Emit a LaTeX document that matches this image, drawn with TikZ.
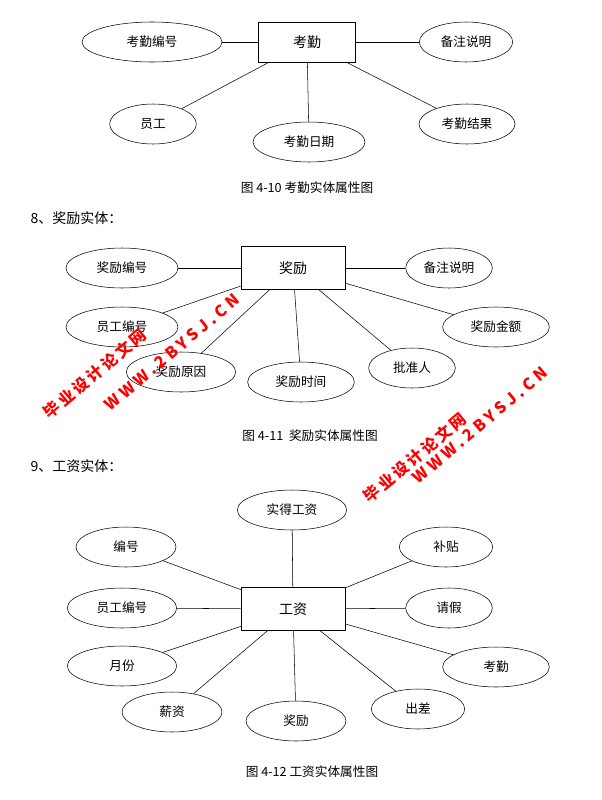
\documentclass[tikz,border=0pt]{standalone}
\usepackage{fontspec}
\setmainfont{Noto Sans CJK SC}
\usetikzlibrary{shapes.geometric}
\begin{document}
\begin{tikzpicture}[x=0.75pt,y=-0.75pt]
      % Define styles for nodes
      \tikzstyle{entity} = [draw, rectangle, minimum width=78pt,
      minimum height=32pt, font=\fontsize{10.5}{12}\selectfont]
      \tikzstyle{attr} = [draw, ellipse, minimum height=30pt,
      inner sep=0pt, font=\fontsize{9.5}{11}\selectfont]
      \tikzstyle{caption} = [font=\fontsize{9.5}{11}\selectfont]
      \tikzstyle{heading} = [anchor=west, font=\fontsize{10.5}{12}\selectfont]
      \tikzstyle{wmark} = [text=red, rotate=40, font=\bfseries\fontsize{12}{12}\selectfont]

      \useasboundingbox (0,0) rectangle (602,800);

      % Attendance entity
      \node[entity, minimum width=73pt, minimum height=30pt] (kq) at (307,42) {考勤};
      \node[attr, minimum width=105pt] (kqbh) at (152,42) {考勤编号};
      \node[attr, minimum width=70pt] (kqbz) at (466,42) {备注说明};
      \node[attr, minimum width=65pt] (kqyg) at (153,124) {员工};
      \node[attr, minimum width=84pt] (kqrq) at (309,142) {考勤日期};
      \node[attr, minimum width=72pt] (kqjg) at (467,124) {考勤结果};
      \foreach \a in {kqbh,kqbz,kqyg,kqrq,kqjg}
        \draw (kq) -- (\a);
      \node[caption] (cap1) at (307,188) {图 4-10 考勤实体属性图};
      \node[heading] (h8) at (26,218) {8、奖励实体：};

      % Reward entity
      \node[entity] (jl) at (293,268) {奖励};
      \node[attr, minimum width=84pt] (jlbh) at (122,268) {奖励编号};
      \node[attr, minimum width=65pt] (jlbz) at (449,268) {备注说明};
      \node[attr, minimum width=84pt] (jlyg) at (122,327) {员工编号};
      \node[attr, minimum width=80pt] (jlje) at (496,327) {奖励金额};
      \node[attr, minimum width=82pt] (jlyy) at (181,372) {奖励原因};
      \node[attr, minimum width=80pt] (jlsj) at (301,382) {奖励时间};
      \node[attr, minimum width=65pt] (jlpz) at (412,368) {批准人};
      \foreach \a in {jlbh,jlbz,jlyg,jlje,jlyy,jlsj,jlpz}
        \draw (jl) -- (\a);
      \node[caption] (cap2) at (310,436) {图 4-11 \ 奖励实体属性图};
      \node[heading] (h9) at (26,466) {9、工资实体：};

      % Salary entity
      \node[entity] (gz) at (293,609) {工资};
      \node[attr, minimum width=82pt] (gzsd) at (292,510) {实得工资};
      \node[attr, minimum width=75pt] (gzbh) at (126,547) {编号};
      \node[attr, minimum width=70pt] (gzbt) at (446,547) {补贴};
      \node[attr, minimum width=82pt] (gzyg) at (122,608) {员工编号};
      \node[attr, minimum width=65pt] (gzqj) at (449,608) {请假};
      \node[attr, minimum width=82pt] (gzyf) at (122,666) {月份};
      \node[attr, minimum width=80pt] (gzkq) at (496,667) {考勤};
      \node[attr, minimum width=75pt] (gzxz) at (172,712) {薪资};
      \node[attr, minimum width=75pt] (gzjl) at (296,721) {奖励};
      \node[attr, minimum width=70pt] (gzcc) at (418,709) {出差};
      \foreach \a in {gzsd,gzbh,gzbt,gzyg,gzqj,gzyf,gzkq,gzxz,gzjl,gzcc}
        \draw (gz) -- (\a);
      \node[caption] (cap3) at (312,772) {图 4-12 工资实体属性图};

      % Watermarks
      \node[wmark] (wm1) at (95,374) {毕\,业\,设\,计\,论\,文\,网};
      \node[wmark] (wm2) at (172,352) {W W W . 2 B Y S J . C N};
      \node[wmark] (wm3) at (415,458) {毕\,业\,设\,计\,论\,文\,网};
      \node[wmark] (wm4) at (480,425) {W W W . 2 B Y S J . C N};
\end{tikzpicture}
\end{document}
